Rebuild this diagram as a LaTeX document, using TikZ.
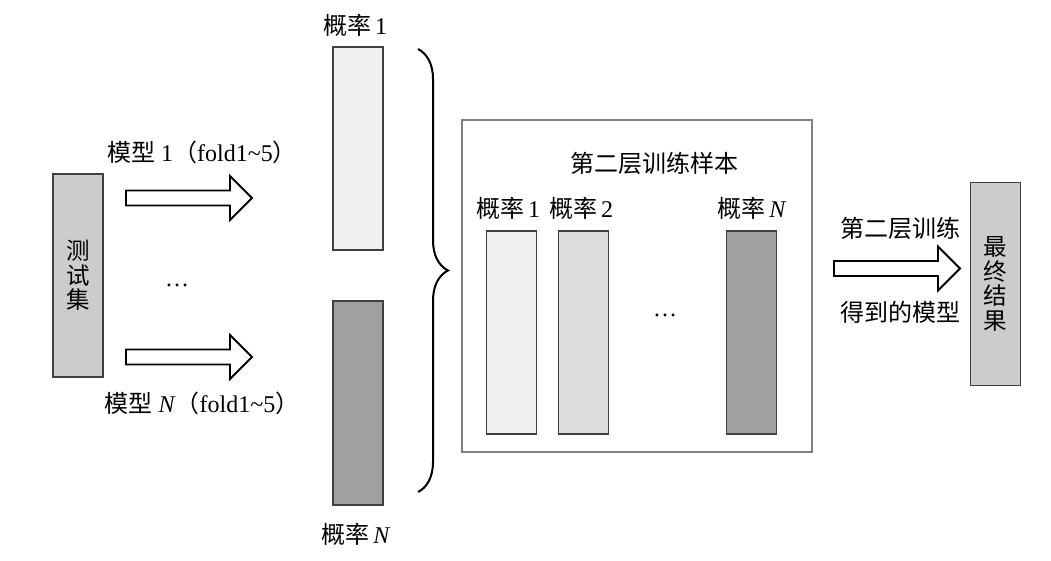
\documentclass[tikz,border=0pt]{standalone}
\usepackage{fontspec}
\setmainfont{Liberation Serif}
\newfontfamily\cjk{Noto Sans CJK SC}
\usetikzlibrary{positioning, calc, decorations.pathreplacing}
\definecolor{barlight}{RGB}{240, 240, 240}
\definecolor{barmid}{RGB}{221, 221, 221}
\definecolor{bardark}{RGB}{160, 160, 160}
\definecolor{boxgray}{RGB}{204, 204, 204}
\definecolor{edgegray}{RGB}{64, 64, 64}
\definecolor{framegray}{RGB}{128, 128, 128}
\newcommand{\fatarrow}[2]{%
  \draw[fatline] let \p1=(#1), \p2=(#2) in
    (\x1,\y1+7.5pt) -- (\x2-22pt,\y1+7.5pt) -- (\x2-22pt,\y1+22pt) -- (\x2,\y1)
    -- (\x2-22pt,\y1-22pt) -- (\x2-22pt,\y1-7.5pt) -- (\x1,\y1-7.5pt) -- cycle;}

\begin{document}
\begin{tikzpicture}[x=1pt, y=-1pt, every node/.style={font=\fontsize{24}{28}\selectfont},
    bar/.style={draw=edgegray, line width=1.3pt, minimum width=50pt, minimum height=203pt, inner sep=0pt},
    sidebox/.style={bar, fill=boxgray, font=\cjk\fontsize{23.5}{24.5}\selectfont, align=center},
    fatline/.style={draw=black, line width=1.8pt, fill=white, line join=miter}]
    \useasboundingbox (0,0) rectangle (1051,561);

    % Test set
    \node[sidebox] (test) at (78,275.5) {测\\试\\集};

    % Arrows to the models
    \coordinate (a1s) at (126,198); \coordinate (a1e) at (252,198);
    \coordinate (aNs) at (126,357); \coordinate (aNe) at (252,357);
    \fatarrow{a1s}{a1e}
    \fatarrow{aNs}{aNe}
    \node (m1) at (202,152) {{\cjk 模型}~1{\cjk （}fold1\textasciitilde5{\cjk ）}};
    \node (mN) at (202,403) {{\cjk 模型}~\textit{N}{\cjk （}fold1\textasciitilde5{\cjk ）}};
    \node (ldots) at (177,285) {\dots};

    % Probability columns
    \node[bar, fill=barlight] (p1) at (358,148.5) {};
    \node[bar, fill=bardark, minimum height=204pt] (pN) at (358,403) {};
    \node (p1lab) at (355,25) {{\cjk 概率}\,1};
    \node (pNlab) at (356,534) {{\cjk 概率}\,\textit{N}};

    % Brace
    \draw[decorate, decoration={brace, amplitude=30pt}, line width=2pt] (418,49) -- (418,492);

    % Second-layer training samples
    \node[draw=framegray, line width=1.6pt, minimum width=350pt, minimum height=332pt] (stack) at (637,286) {};
    \node (stacktitle) at (654,163) {\cjk 第二层训练样本};
    \foreach \x/\lx/\c/\n/\lab in {511.5/508/barlight/1/1, 583.5/581/barmid/2/2, 751.5/752/bardark/N/\textit{N}}
        {\node[bar, fill=\c] (s\n) at (\x,332.5) {}; \node (s\n lab) at (\lx,208) {{\cjk 概率}\,\lab};}
    \node (sdots) at (665,315) {\dots};

    % Final result
    \coordinate (bs) at (834,268.5); \coordinate (be) at (960,268.5);
    \fatarrow{bs}{be}
    \node (train) at (900,228) {\cjk 第二层训练};
    \node (model) at (900,312) {\cjk 得到的模型};
    \node[sidebox] (final) at (995.5,284) {最\\终\\结\\果};
\end{tikzpicture}
\end{document}
